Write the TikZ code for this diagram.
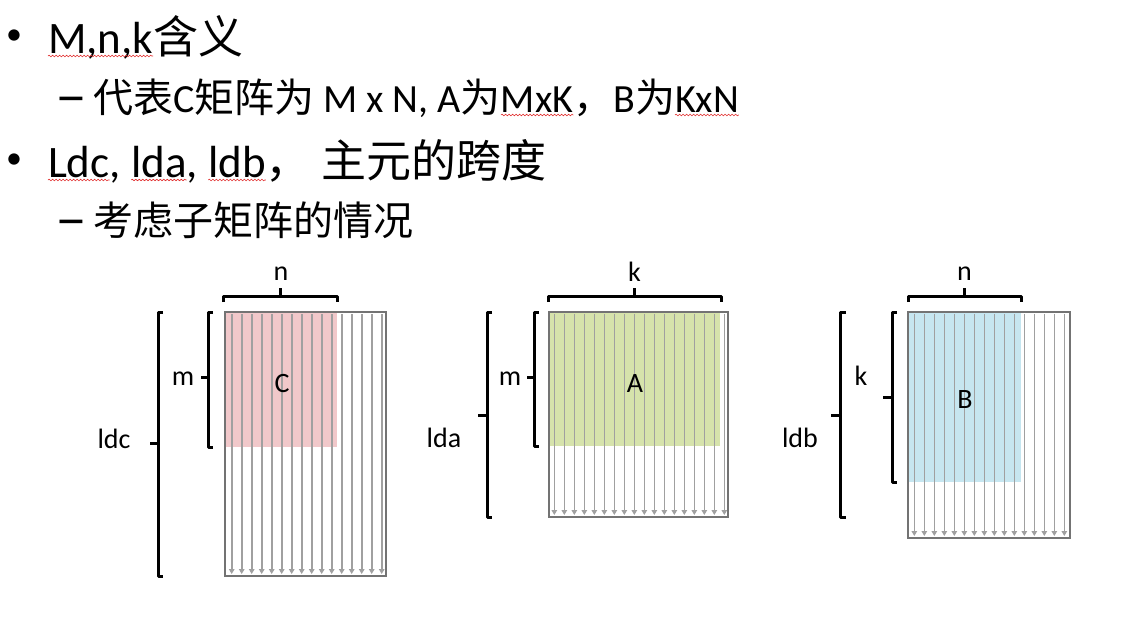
\documentclass[tikz,border=0pt]{standalone}
\usepackage{fontspec}
\setmainfont{Carlito}
\newfontfamily\cjk{Noto Sans CJK SC}
\usetikzlibrary{arrows.meta,decorations.pathmorphing}

\definecolor{pinkC}{RGB}{241,200,202}
\definecolor{greenA}{RGB}{214,227,171}
\definecolor{blueB}{RGB}{198,230,240}
\definecolor{lineG}{RGB}{160,160,160}
\definecolor{frameG}{RGB}{115,115,115}
\definecolor{squig}{RGB}{225,45,45}

\tikzset{
  big/.style={inner sep=0pt, outer sep=0pt, font=\fontsize{45}{54}\selectfont},
  sub/.style={inner sep=0pt, outer sep=0pt, font=\fontsize{40}{48}\selectfont},
  bul/.style={inner sep=0pt, outer sep=0pt, font=\fontsize{32}{38}\selectfont},
  lab/.style={inner sep=0pt, outer sep=0pt, font=\fontsize{28}{33}\selectfont},
  squiggle/.style={draw=squig, line width=0.6pt, decorate,
     decoration={snake, amplitude=0.8pt, segment length=3.5pt}},
  brk/.style={line width=3pt, line join=round, black},
  frame/.style={draw=frameG, line width=1.2pt},
  col/.style={draw=lineG, line width=1.6pt, -{Triangle[length=5pt,width=5.5pt]}},
}

\begin{document}
\begin{tikzpicture}[x=1pt,y=-1pt]
\useasboundingbox (0,0) rectangle (1145,622);
\fill[white] (0,0) rectangle (1145,622);

% ---------- text ----------
\node[bul] (bu1) at (14,37) {•};
\node[big, anchor=base west] (l1a) at (48,53) {M,n,k};
\node[big, anchor=base west] (l1b) at (l1a.base east) {\cjk 含义};

\node[sub, anchor=north] (da1) at (71,97.5) {\scalebox{1.6}[1.4]{–}};
\node[sub, anchor=base west] (l2a) at (93,112) {{\cjk 代表}C{\cjk 矩阵为} M x N, A{\cjk 为}};
\node[sub, anchor=base west] (l2b) at (l2a.base east) {MxK};
\node[sub, anchor=base west] (l2c) at (l2b.base east) {{\cjk ，}B{\cjk 为}};
\node[sub, anchor=base west] (l2d) at (l2c.base east) {KxN};

\node[bul] (bu2) at (14,161) {•};
\node[big, anchor=base west] (l3a) at (48,177) {Ldc};
\node[big, anchor=base west] (l3b) at (l3a.base east) {,\kern0.23em};
\node[big, anchor=base west] (l3c) at (l3b.base east) {lda};
\node[big, anchor=base west] (l3d) at (l3c.base east) {,\kern0.23em};
\node[big, anchor=base west] (l3e) at (l3d.base east) {ldb};
\node[big, anchor=base west] (l3f) at (l3e.base east) {{\cjk ，}\ {\cjk 主元的跨度}};

\node[sub, anchor=north] (da2) at (71,220.5) {\scalebox{1.6}[1.4]{–}};
\node[sub, anchor=base west] (l4a) at (93,235) {\cjk 考虑子矩阵的情况};

% spell-check squiggles
\foreach \w in {l1a,l2b,l2d,l3a,l3c,l3e}
  \draw[squiggle] ([yshift=-3pt]\w.base west) -- ([yshift=-3pt]\w.base east);

% ---------- matrix C ----------
\fill[pinkC] (225,312) rectangle (337,447);
\foreach \i in {0,...,15} \draw[col] (231.7+10*\i,314) -- (231.7+10*\i,574);
\draw[frame] (225,312) rectangle (386,576);
\draw[brk] (223,302) -- (223,296) -- (337,296) -- (337,302) (280,296) -- (280,288);
\draw[brk] (213,312) -- (208,312) -- (208,447) -- (213,447) (208,377) -- (201,377);
\draw[brk] (163,312) -- (158,312) -- (158,576) -- (163,576) (158,443) -- (150,443);
\node[lab, anchor=base] (cn) at (281,280) {n};
\node[lab, anchor=base] (cm) at (183,385) {m};
\node[lab, anchor=base] (cl) at (114,448) {ldc};
\node[lab, anchor=base] (cc) at (282,392) {C};

% ---------- matrix A ----------
\fill[greenA] (549,312) rectangle (720,446);
\foreach \i in {0,...,17} \draw[col] (554.3+10*\i,314) -- (554.3+10*\i,515);
\draw[frame] (549,312) rectangle (728,517);
\draw[brk] (548,302) -- (548,296) -- (721,296) -- (721,302) (634.5,296) -- (634.5,288);
\draw[brk] (539,312) -- (534,312) -- (534,446) -- (539,446) (534,377) -- (527,377);
\draw[brk] (492,312) -- (487,312) -- (487,517) -- (492,517) (487,415) -- (478,415);
\node[lab, anchor=base] (ak) at (634.5,281) {k};
\node[lab, anchor=base] (am) at (510,385) {m};
\node[lab, anchor=base] (al) at (444,447) {lda};
\node[lab, anchor=base] (aa) at (635,392) {A};

% ---------- matrix B ----------
\fill[blueB] (908,312) rectangle (1021,482);
\foreach \i in {0,...,15} \draw[col] (914.3+10*\i,314) -- (914.3+10*\i,536);
\draw[frame] (908,312) rectangle (1070,538);
\draw[brk] (908,302) -- (908,296) -- (1021,296) -- (1021,302) (964.5,296) -- (964.5,288);
\draw[brk] (897,312) -- (892,312) -- (892,482) -- (897,482) (892,397) -- (883,397);
\draw[brk] (846,312) -- (840,312) -- (840,517) -- (846,517) (840,415) -- (831,415);
\node[lab, anchor=base] (bn) at (964.5,280) {n};
\node[lab, anchor=base] (bk) at (861,385) {k};
\node[lab, anchor=base] (bl) at (800,447) {ldb};
\node[lab, anchor=base] (bb) at (965,408) {B};
\end{tikzpicture}
\end{document}
